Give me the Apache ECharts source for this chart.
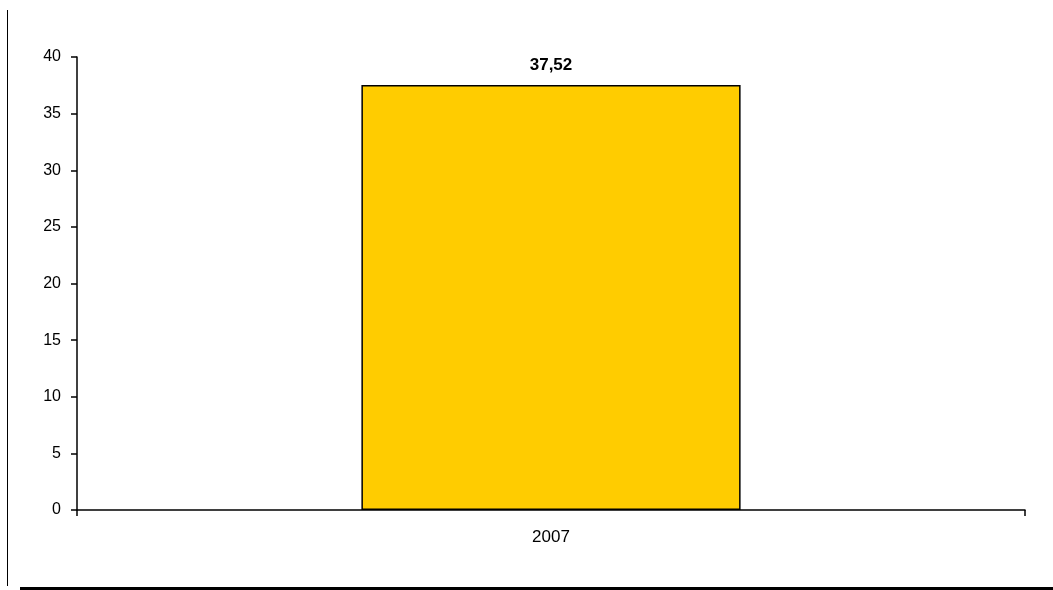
<!DOCTYPE html>
<html><head><meta charset="utf-8">
<script src="https://cdn.jsdelivr.net/npm/echarts@6/dist/echarts.min.js"></script>
<style>html,body{margin:0;padding:0;background:#fff}#c{width:1053px;height:590px}</style>
</head><body><div id="c"></div>
<script>
const categories = ['2007'];
const values = [37.52];
const yTicks = [0, 5, 10, 15, 20, 25, 30, 35, 40];

const chart = echarts.init(document.getElementById('c'));
chart.setOption({
  animation: false,
  grid: { left: 77, right: 28, top: 57, bottom: 80 },
  xAxis: {
    type: 'category', data: categories,
    axisLine: { lineStyle: { color: '#000', width: 1.5 } },
    axisTick: { show: true, alignWithLabel: false, length: 6, lineStyle: { color: '#000', width: 1.5 } },
    axisLabel: { color: '#000', fontFamily: 'Liberation Sans, Arial', fontSize: 17, margin: 19 }
  },
  yAxis: {
    type: 'value', min: yTicks[0], max: yTicks[yTicks.length - 1], interval: 5,
    axisLine: { show: true, lineStyle: { color: '#000', width: 1.5 } },
    axisTick: { show: true, length: 6, lineStyle: { color: '#000', width: 1.5 } },
    splitLine: { show: false },
    axisLabel: { color: '#000', fontFamily: 'Liberation Sans, Arial', fontSize: 16, margin: 16 }
  },
  series: [{
    type: 'bar', data: values, barWidth: '40%',
    itemStyle: { color: '#FFCC00', borderColor: '#000', borderWidth: 1.5 },
    label: {
      show: true, position: 'top', distance: 11,
      formatter: p => p.value.toFixed(2).replace('.', ','),
      color: '#000', fontWeight: 'bold', fontSize: 17, fontFamily: 'Liberation Sans, Arial'
    }
  }],
  graphic: [
    { type: 'line', shape: { x1: 7.5, y1: 10, x2: 7.5, y2: 586 }, style: { stroke: '#000', lineWidth: 1 } },
    { type: 'line', shape: { x1: 20, y1: 588.5, x2: 1053, y2: 588.5 }, style: { stroke: '#000', lineWidth: 3 } }
  ]
});
</script></body></html>
